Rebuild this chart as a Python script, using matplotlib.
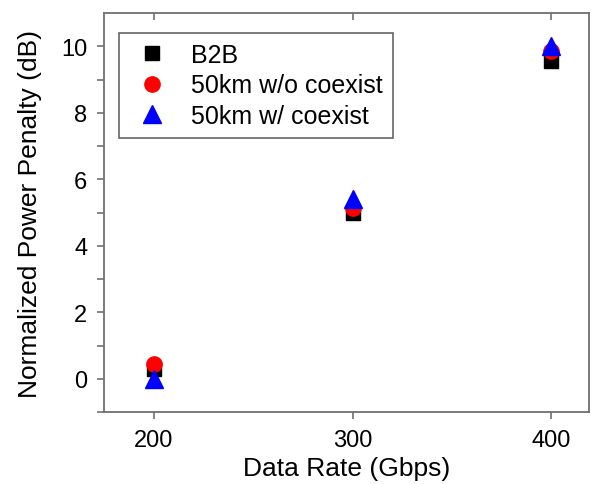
import numpy as np
import matplotlib
matplotlib.use('Agg')
import matplotlib.pyplot as plt

plt.rcParams['font.family'] = ['Liberation Sans', 'DejaVu Sans']

# data
rates = [200, 300, 400]
b2b = [0.3, 5.0, 9.55]
no_coexist = [0.45, 5.15, 9.85]
coexist = [0.0, 5.4, 10.0]

fig = plt.figure(figsize=(5.91, 4.85), dpi=100)
ax = fig.add_axes([0.176, 0.148, 0.821, 0.823])

ax.plot(rates, b2b, 's', color='black', ms=9.5, mec='black', label='B2B')
ax.plot(rates, no_coexist, 'o', color='red', ms=11, mec='red', label='50km w/o coexist')
ax.plot(rates, coexist, '^', color='blue', ms=13, mec='blue', label='50km w/ coexist')

ax.set_xlim(175, 419)
ax.set_ylim(-1, 11)
ax.set_xticks([200, 300, 400])
ax.set_yticks(np.arange(0, 11, 2))
ax.set_yticks(np.arange(-1, 11, 1), minor=True)

spine_col = '#707070'
for s in ax.spines.values():
    s.set_color(spine_col)
    s.set_linewidth(1.3)

ax.tick_params(axis='both', which='both', direction='out', color=spine_col,
               width=1.2, labelsize=17, length=5, pad=7)
ax.tick_params(axis='y', which='minor', length=5)
ax.tick_params(axis='x', which='minor', bottom=False)

# sigmaplot-style mirrored ticks on top, pointing in
top = ax.secondary_xaxis('top')
top.set_xticks([200, 300, 400])
top.tick_params(direction='in', length=5, width=1.2, color=spine_col, labeltop=False)
top.spines['top'].set_visible(False)

ax.set_xlabel('Data Rate (Gbps)', fontsize=19, labelpad=4)
ax.set_ylabel('Normalized Power Penalty (dB)', fontsize=19, labelpad=14)

leg = ax.legend(loc='upper left', bbox_to_anchor=(119 / 591, 1 - 34 / 485),
                bbox_transform=fig.transFigure, borderaxespad=0, fontsize=18,
                frameon=True, fancybox=False, edgecolor='#404040',
                handletextpad=0.64, borderpad=0.4, labelspacing=0.25,
                handlelength=1.84, numpoints=1)
leg.get_frame().set_linewidth(1.2)

fig.savefig('out.png', dpi=100)
